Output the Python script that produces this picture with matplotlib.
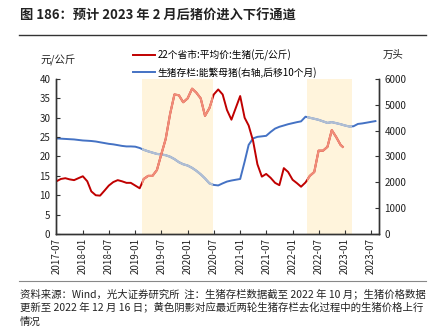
import matplotlib
matplotlib.use("Agg")
import matplotlib.pyplot as plt
import matplotlib.dates as mdates
from matplotlib.patches import Rectangle
import pandas as pd

plt.rcParams['font.family'] = ['Noto Sans CJK SC', 'DejaVu Sans']
plt.rcParams['axes.unicode_minus'] = False

# 22省市生猪平均价（元/公斤），月度
price_dates = list(pd.date_range('2017-07-01', '2022-12-01', freq='MS')) + [pd.Timestamp('2022-12-16')]
price_values = [
    13.6, 14.2, 14.4, 14.1, 13.9, 14.4,   # 2017-07 ~ 2017-12
    14.9, 13.6, 11.0, 10.0, 9.9, 11.2,    # 2018-01 ~ 2018-06
    12.5, 13.4, 13.9, 13.6, 13.2, 13.2,   # 2018-07 ~ 2018-12
    12.5, 11.8, 14.2, 15.0, 15.0, 16.5,   # 2019-01 ~ 2019-06
    20.5, 24.5, 31.0, 36.0, 35.8, 34.0,   # 2019-07 ~ 2019-12
    35.0, 37.5, 36.5, 35.0, 30.5, 32.5,   # 2020-01 ~ 2020-06
    36.0, 37.3, 36.0, 32.0, 29.5, 32.5,   # 2020-07 ~ 2020-12
    35.6, 30.0, 28.0, 24.0, 18.0, 14.8,   # 2021-01 ~ 2021-06
    15.5, 14.5, 13.2, 12.6, 17.0, 16.0,   # 2021-07 ~ 2021-12
    14.0, 13.1, 12.2, 13.3, 15.0, 16.0,   # 2022-01 ~ 2022-06
    21.5, 21.5, 22.5, 26.8, 25.0, 23.0,   # 2022-07 ~ 2022-12
    22.5,                                 # 2022-12-16
]

# 能繁母猪存栏（万头），后移10个月
sow_dates = list(pd.date_range('2017-07-01', '2023-08-01', freq='MS'))
sow_values = [
    3700, 3690, 3680, 3670, 3660, 3640,
    3620, 3610, 3600, 3580, 3550, 3520,
    3490, 3470, 3440, 3410, 3390, 3390,
    3380, 3330, 3260, 3200, 3150, 3100,
    3080, 3050, 2990, 2900, 2780, 2700,
    2650, 2560, 2450, 2310, 2150, 1960,
    1900, 1880, 1960, 2030, 2070, 2100,
    2130, 2800, 3450, 3700, 3760, 3780,
    3800, 3950, 4080, 4150, 4200, 4250,
    4290, 4330, 4360, 4540, 4500, 4460,
    4420, 4360, 4300, 4330, 4290, 4250,
    4200, 4160, 4170, 4260, 4280, 4310,
    4340, 4370,
]

# 两轮存栏去化期间
shade_periods = [('2019-02-15', '2020-06-28'), ('2022-04-10', '2023-02-20')]

price_label = '22个省市:平均价:生猪(元/公斤)'
sow_label = '生猪存栏:能繁母猪(右轴,后移10个月)'
title = '图 186：预计 2023 年 2 月后猪价进入下行通道'
note_lines = [
    '资料来源：Wind，光大证券研究所  注：生猪存栏数据截至 2022 年 10 月；生猪价格数据',
    '更新至 2022 年 12 月 16 日；黄色阴影对应最近两轮生猪存栏去化过程中的生猪价格上行',
    '情况',
]

RED = '#C00000'
SALMON = '#F08C78'
BLUE = '#4472C4'
GREYBLUE = '#B0BED3'
SHADE = '#FFF4DC'
AXIS = '#333333'

fig = plt.figure(figsize=(4.32, 3.26), dpi=100)
ax = fig.add_axes([0.1296, 0.2822, 0.7474, 0.4755])
ax2 = ax.twinx()

# shading and sow line on the right axis, price line above it on the left axis
ax.set_zorder(ax2.get_zorder() + 1)
ax.patch.set_visible(False)

for a, b in shade_periods:
    ax2.axvspan(pd.Timestamp(a), pd.Timestamp(b), color=SHADE, lw=0, zorder=0)


def period_part(dates, values, a, b):
    """Points of a series around one shaded period (one extra month either side)."""
    lo = pd.Timestamp(a) - pd.DateOffset(months=1)
    hi = pd.Timestamp(b) + pd.DateOffset(months=1)
    keep = [(d, v) for d, v in zip(dates, values) if lo <= d <= hi]
    return [d for d, _ in keep], [v for _, v in keep]


def period_clip(axes, a, b):
    """Rectangle covering one shaded period over the full axes height."""
    x0 = mdates.date2num(pd.Timestamp(a))
    x1 = mdates.date2num(pd.Timestamp(b))
    return Rectangle((x0, 0), x1 - x0, 1, transform=axes.get_xaxis_transform())


ln_sow, = ax2.plot(sow_dates, sow_values, color=BLUE, lw=1.4, zorder=2)
ln_price, = ax.plot(price_dates, price_values, color=RED, lw=1.4, zorder=2)

# lighter colouring of both series within the shaded periods
for a, b in shade_periods:
    xd, yd = period_part(sow_dates, sow_values, a, b)
    l, = ax2.plot(xd, yd, color=GREYBLUE, lw=1.6, zorder=3)
    l.set_clip_path(period_clip(ax2, a, b))
    xd, yd = period_part(price_dates, price_values, a, b)
    l, = ax.plot(xd, yd, color=SALMON, lw=1.6, zorder=3)
    l.set_clip_path(period_clip(ax, a, b))

ax.set_ylim(0, 40)
ax.set_yticks(range(0, 41, 5))
ax2.set_ylim(0, 6000)
ax2.set_yticks(range(0, 6001, 1000))

ax.set_xlim(pd.Timestamp('2017-06-28'), pd.Timestamp('2023-08-25'))
ax.xaxis.set_major_locator(mdates.MonthLocator(bymonth=[1, 7]))
ax.xaxis.set_major_formatter(mdates.DateFormatter('%Y-%m'))

for a in (ax, ax2):
    a.spines['top'].set_visible(False)
    for s in ('left', 'right', 'bottom'):
        a.spines[s].set_color(AXIS)
        a.spines[s].set_linewidth(1.0)
    a.tick_params(direction='in', length=3, width=0.8, colors=AXIS,
                  labelsize=7, labelcolor='#222222')
ax.tick_params(axis='x', pad=3)
ax.tick_params(axis='y', pad=4)
ax2.tick_params(axis='y', pad=4)

for lab in ax.get_xticklabels():
    lab.set_rotation(90)

fig.text(0.093, 0.815, '元/公斤', fontsize=7.5, ha='left', va='center', color='#222222')
fig.text(0.886, 0.832, '万头', fontsize=7.5, ha='left', va='center', color='#222222')

fig.legend([ln_price, ln_sow], [price_label, sow_label],
           loc='upper left', bbox_to_anchor=(0.309, 0.847), frameon=False,
           fontsize=7, handlelength=2.2, handletextpad=0.3, labelspacing=0.6,
           borderaxespad=0, borderpad=0)

# header and footer
fig.text(0.046, 0.953, title, fontsize=9.5, fontweight='bold', ha='left', va='center', color='#222222')
fig.add_artist(plt.Line2D([0.045, 0.985], [0.893, 0.893], color='#333333', lw=1.0,
                          transform=fig.transFigure))
fig.add_artist(plt.Line2D([0.045, 0.985], [0.139, 0.139], color='#888888', lw=0.8,
                          transform=fig.transFigure))
for i, line in enumerate(note_lines):
    fig.text(0.046, 0.098 - i * 0.043, line, fontsize=7.5, ha='left', va='center', color='#222222')

fig.savefig('out.png', dpi=100)
